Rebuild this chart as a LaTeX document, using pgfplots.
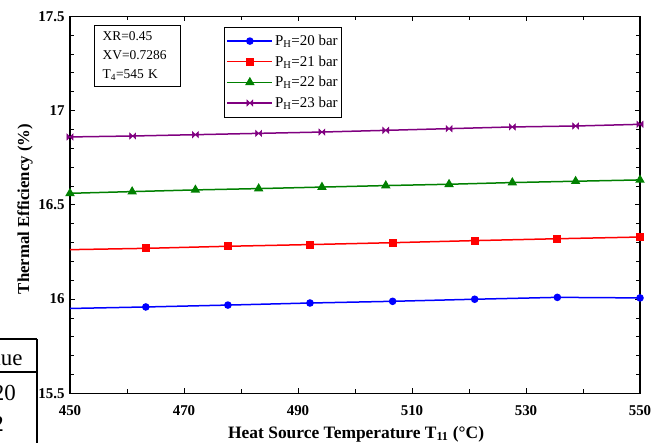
\documentclass[border=0pt]{standalone}
\usepackage{fontspec}
\setmainfont{Liberation Serif}
\usepackage{pgfplots}
\pgfplotsset{compat=1.18}
\usetikzlibrary{calc}
\definecolor{pblue}{RGB}{0,0,255}
\definecolor{pred}{RGB}{255,0,0}
\definecolor{pgreen}{RGB}{0,128,0}
\definecolor{ppurple}{RGB}{128,0,128}
\pgfdeclareplotmark{bowtie}{%
  \pgfpathmoveto{\pgfqpoint{-\pgfplotmarksize}{\pgfplotmarksize}}%
  \pgfpathlineto{\pgfqpoint{\pgfplotmarksize}{-\pgfplotmarksize}}%
  \pgfpathlineto{\pgfqpoint{\pgfplotmarksize}{\pgfplotmarksize}}%
  \pgfpathlineto{\pgfqpoint{-\pgfplotmarksize}{-\pgfplotmarksize}}%
  \pgfpathclose
  \pgfusepathqfillstroke}
\pgfplotsset{
  leg/.style={legend image code/.code={%
    \draw[mark indices={2}] plot coordinates {(0bp,0bp) (22.5bp,0bp) (45bp,0bp)};}},
}
\begin{document}
\begin{tikzpicture}
\begin{axis}[name=ax, at={(0,0)}, anchor=south west,
  scale only axis, width=570bp, height=377bp,
  xmin=450, xmax=550, ymin=15.5, ymax=17.5,
  xtick={450,470,...,550}, minor x tick num=1,
  ytick={15.5,16,16.5,17,17.5}, minor y tick num=4,
  tick align=inside, major tick length=5bp, minor tick length=4bp,
  every tick/.style={black, line width=0.8bp},
  axis line style={line width=1.2bp},
  /pgf/number format/assume math mode=true,
  tick label style={font=\bfseries\fontsize{15}{15}\selectfont},
  xticklabel style={yshift=-9bp},
  yticklabel style={xshift=-2bp},
  label style={font=\bfseries\fontsize{17.5}{18}\selectfont},
  xlabel={Heat Source Temperature T\textsubscript{11} (°C)},
  ylabel={Thermal Efficiency (\%)},
  xlabel style={at={(axis description cs:0.502,-0.108)}, anchor=center},
  ylabel style={at={(axis description cs:-0.079,0.489)}, anchor=center,
    font=\bfseries\fontsize{16.8}{17}\selectfont},
  legend style={at={(rel axis cs:0.2707,0.972)}, anchor=north west,
    font=\fontsize{15}{16}\selectfont, draw=black, line width=0.6bp,
    inner xsep=2bp, inner ysep=6bp, row sep=4.8bp},
  legend cell align=left,
  every axis plot/.append style={line width=1.5bp},
]
\addplot[pblue, leg, mark=*, mark size=3bp, mark indices={2,3,4,5,6,7,8}] coordinates {
 (450,15.950) (463.3,15.958) (477.7,15.968) (492.1,15.979) (506.6,15.988) (521,15.999) (535.5,16.009) (550,16.006)};
\addlegendentry{P\textsubscript{H}=20 bar}
\addplot[pred, leg, mark=square*, mark size=3.3bp, mark indices={2,3,4,5,6,7,8}] coordinates {
 (450,16.262) (463.3,16.269) (477.7,16.280) (492.1,16.289) (506.6,16.299) (521,16.310) (535.5,16.320) (550,16.329)};
\addlegendentry{P\textsubscript{H}=21 bar}
\addplot[pgreen, leg, mark=triangle*, mark size=4bp] coordinates {
 (450,16.561) (460.9,16.570) (472,16.579) (483.1,16.586) (494.2,16.594) (505.4,16.602) (516.5,16.609) (527.6,16.618) (538.7,16.625) (550,16.632)};
\addlegendentry{P\textsubscript{H}=22 bar}
\addplot[ppurple, leg, mark=bowtie, mark size=3bp, mark options={line width=0.6bp}] coordinates {
 (450,16.860) (461,16.865) (472,16.872) (483.1,16.879) (494.2,16.886) (505.4,16.895) (516.5,16.904) (527.6,16.913) (538.7,16.918) (550,16.927)};
\addlegendentry{P\textsubscript{H}=23 bar}
\node[draw=black, line width=0.6bp, anchor=north west, align=left,
  font=\fontsize{13.5}{19}\selectfont, inner xsep=8bp, inner ysep=6bp,
  text width=70bp] at (rel axis cs:0.0426,0.977)
  {XR=0.45\\XV=0.7286\\T\textsubscript{4}=545 K};
\end{axis}
% cropped table fragment at the lower left
\draw[line width=1.1bp] ($(ax.south west)+(-75bp,54.3bp)$) -- ($(ax.south west)+(-33bp,54.3bp)$);
\draw[line width=1.1bp] ($(ax.south west)+(-75bp,21.3bp)$) -- ($(ax.south west)+(-33bp,21.3bp)$);
\draw[line width=1.1bp] ($(ax.south west)+(-33bp,54.3bp)$) -- ($(ax.south west)+(-33bp,-55bp)$);
\node[anchor=base east, inner sep=0pt, font=\fontsize{23}{23}\selectfont] at ($(ax.south west)+(-47.3bp,28bp)$) {Value};
\node[anchor=base east, inner sep=0pt, font=\fontsize{23}{23}\selectfont] at ($(ax.south west)+(-54bp,-6.7bp)$) {0.20};
\node[anchor=base east, inner sep=0pt, font=\fontsize{23}{23}\selectfont] at ($(ax.south west)+(-66bp,-38.4bp)$) {0.2};
\pgfresetboundingbox
\path[use as bounding box] ($(ax.south west)+(-70bp,-49.7bp)$) rectangle ($(ax.south west)+(597bp,393.3bp)$);
\end{tikzpicture}
\end{document}
